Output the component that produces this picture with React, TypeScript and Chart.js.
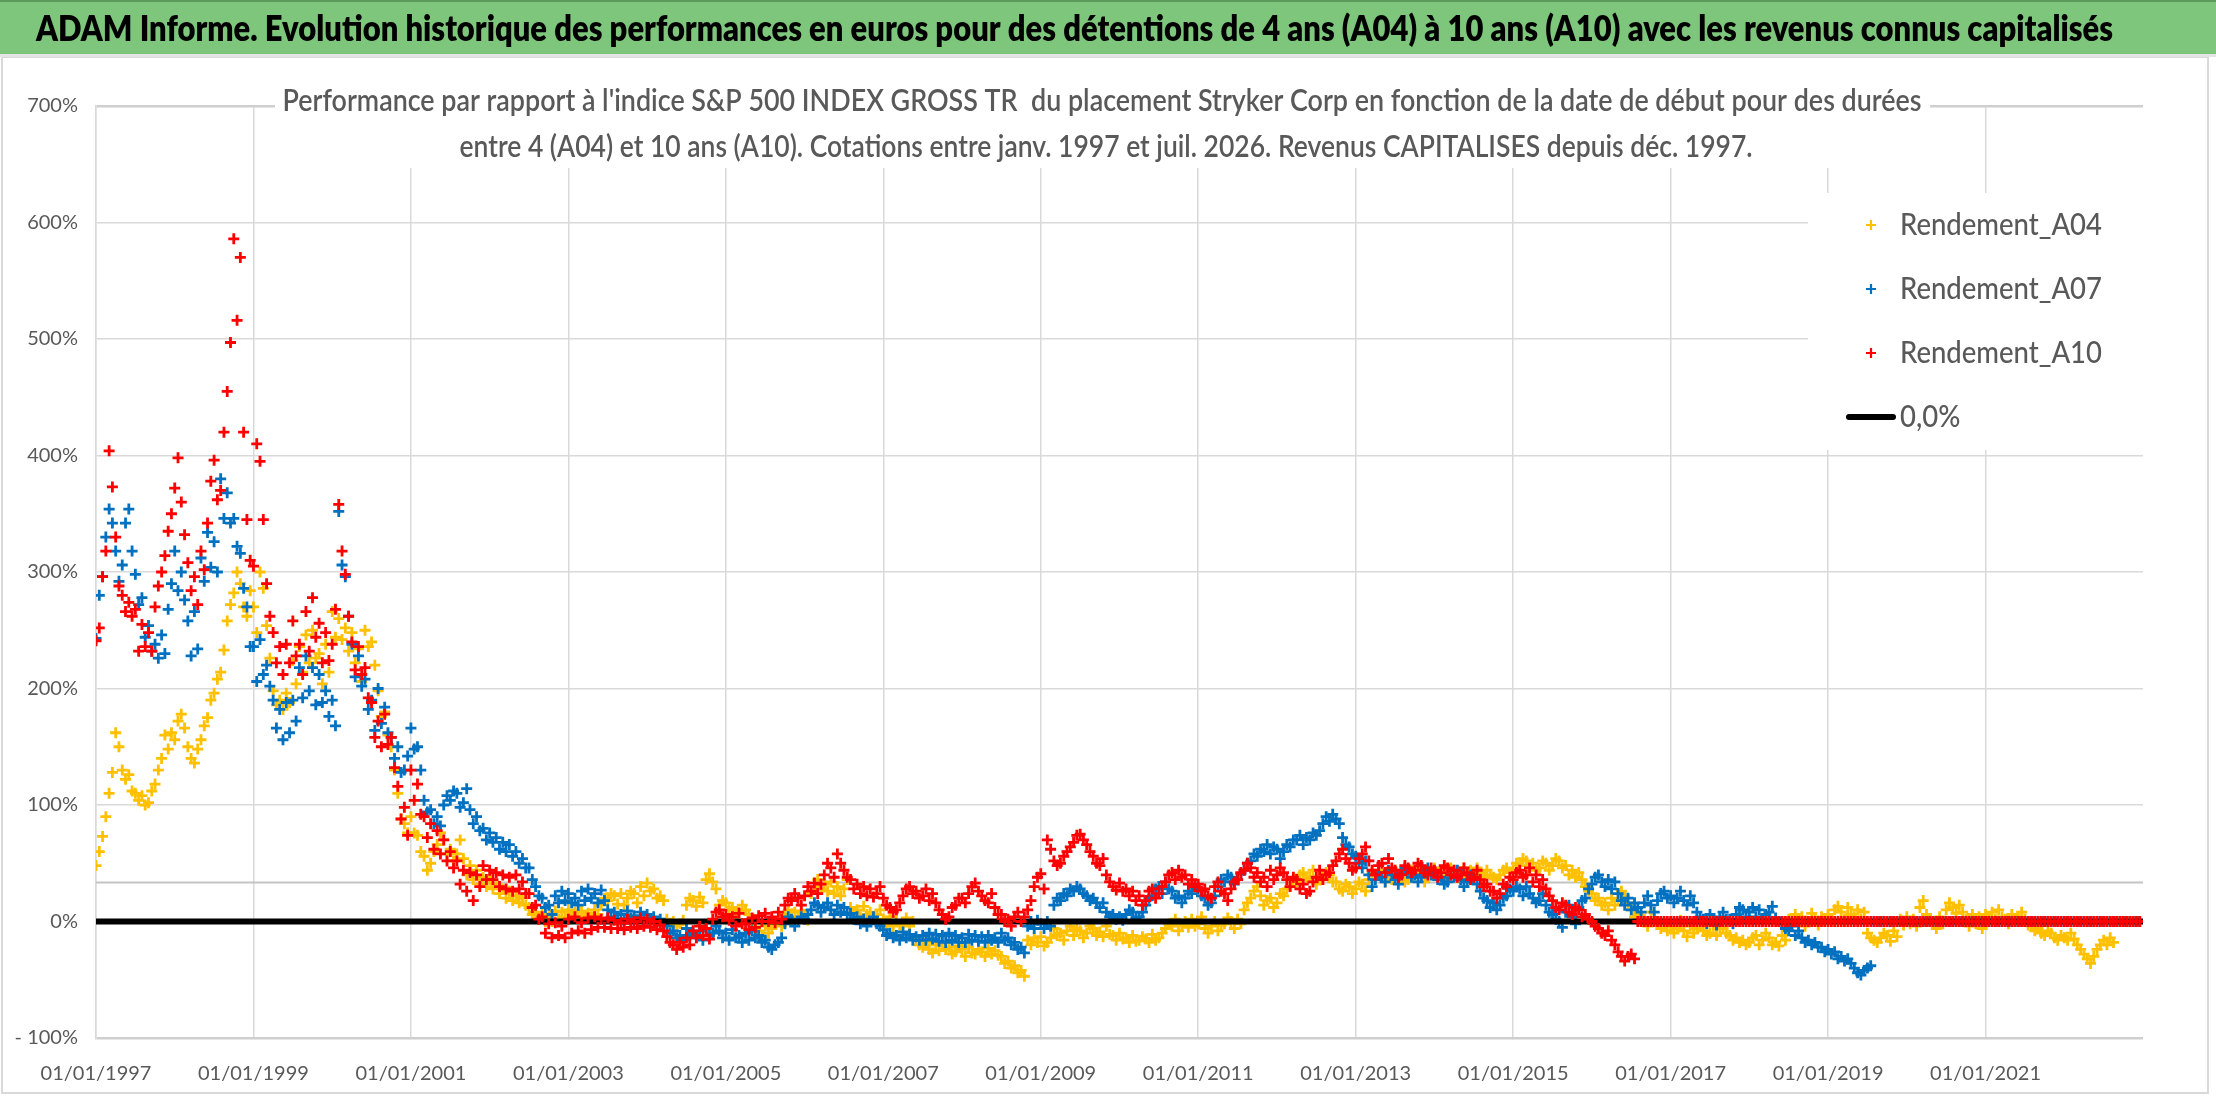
import React, { useEffect, useRef } from 'react';
import { Chart, registerables } from 'chart.js';

Chart.register(...registerables);

const TITLE =
  'ADAM Informe. Evolution historique des performances en euros pour des détentions de 4 ans (A04) à 10 ans (A10) avec les revenus connus capitalisés';
const SUBTITLE = [
  "Performance par rapport à l'indice S&P 500 INDEX GROSS TR  du placement Stryker Corp en fonction de la date de début pour des durées",
  'entre 4 (A04) et 10 ans (A10). Cotations entre janv. 1997 et juil. 2026. Revenus CAPITALISES depuis déc. 1997.',
];

// x axis is in years since 01/01/1997, two points per month
const FIRST_YEAR = 1997;
const POINTS_PER_YEAR = 24;
const X_SPAN_YEARS = 26;
const X_TICK_STEP = 2;
const Y_MIN = -100;
const Y_MAX = 700;
const Y_STEP = 100;

const ZERO_LINE_X = [0, 26];
const ZERO_LINE_Y = [0, 0];
const REF_LINE_X = [0, 26];
const REF_LINE_Y = [33.5, 33.5];

// Rendement_A04 (%), one row per year 1997..2022
const RENDEMENT_A04 = [
  48, 60, 73, 90, 110, 128, 162, 150, 130, 122, 126, 112, 110, 104, 108, 100, 102, 112, 118, 130, 140, 160, 148, 162,
  156, 172, 178, 166, 150, 140, 136, 148, 156, 168, 175, 190, 196, 208, 214, 233, 258, 272, 282, 300, 290, 270, 262, 284,
  270, 248, 300, 286, 254, 226, 198, 186, 190, 182, 196, 188, 224, 204, 236, 214, 246, 222, 250, 226, 230, 204, 238, 214,
  266, 244, 260, 242, 252, 232, 248, 222, 234, 206, 250, 236, 240, 220, 198, 176, 180, 160, 150, 130, 110, 88, 84, 76,
  90, 76, 74, 60, 56, 44, 50, 60, 66, 76, 70, 58, 62, 52, 58, 70, 54, 40, 48, 36, 44, 32, 38, 30,
  36, 28, 32, 24, 28, 20, 26, 18, 22, 16, 20, 14, 12, 6, 8, 2, 6, 0, 4, 0, 9, 2, 8, 4,
  10, 5, 8, 4, 9, 4, 7, 4, 10, 6, 14, 20, 18, 24, 22, 15, 24, 14, 20, 26, 24, 16, 30, 22,
  33, 26, 28, 20, 22, 18, 2, -2, 0, -4, -2, 1, 14, 20, 18, 13, 21, 16, 36, 41, 34, 28, 14, 18,
  16, 10, 12, 7, 8, 14, 10, 6, 0, -6, -8, -13, -4, -10, -6, -2, 1, -4, 6, 10, 2, 8, 4, 9,
  6, 1, 24, 30, 36, 28, 32, 26, 34, 24, 30, 22, 28, 36, 12, 8, 10, 4, 13, 6, 8, 4, 6, 10,
  2, -2, 4, -4, 1, -3, -2, 3, -4, 0, -16, -20, -22, -18, -24, -27, -20, -25, -18, -24, -22, -28, -26, -21,
  -24, -30, -22, -27, -28, -24, -26, -30, -23, -28, -25, -29, -30, -36, -34, -40, -38, -44, -42, -47, -16, -20, -14, -18,
  -13, -21, -18, -14, -6, -12, -10, -16, -8, -4, -12, -6, -8, -14, -10, -4, -6, -12, -9, -13, -4, -11, -12, -16,
  -10, -15, -14, -18, -12, -17, -16, -13, -15, -18, -11, -16, -14, -10, -6, -2, -4, 2, -8, -3, 0, -5, 2, -4,
  -2, 4, -6, -10, -4, 0, -8, -3, -2, 3, 0, -6, 2, -2, 10, 16, 20, 26, 30, 22, 14, 18, 20, 12,
  16, 24, 22, 28, 30, 36, 34, 40, 42, 36, 38, 44, 32, 38, 36, 42, 40, 34, 34, 28, 26, 32, 30, 24,
  28, 34, 32, 26, 36, 42, 40, 44, 38, 34, 42, 36, 44, 38, 40, 34, 36, 44, 42, 46, 40, 34, 38, 44,
  46, 40, 42, 36, 40, 46, 44, 38, 42, 46, 38, 44, 40, 46, 42, 38, 44, 40, 38, 36, 40, 44, 46, 42,
  44, 50, 48, 54, 52, 46, 50, 44, 46, 52, 50, 44, 48, 54, 52, 46, 48, 40, 44, 38, 42, 36, 30, 26,
  24, 18, 20, 14, 16, 10, 20, 14, 18, 26, 22, 16, 10, 4, 6, 0, 2, -4, 8, 2, 0, -6, -2, -8,
  -4, -10, -6, 1, -8, -13, -4, -10, -6, -2, -8, -12, -10, -4, -12, -6, -6, -10, -12, -16, -14, -18, -16, -20,
  -18, -14, -12, -20, -16, -10, -14, -20, -18, -21, -12, -16, 2, -2, 6, 0, 4, -4, 0, 7, 2, -3, 4, 0,
  6, 1, 10, 13, 8, 2, 12, 6, 4, 10, 2, 8, -10, -14, -16, -18, -14, -10, -12, -17, -8, -13, 2, -3,
  4, -2, 2, -4, 12, 18, 6, 2, 0, -6, 4, -2, 10, 16, 12, 7, 14, 8, 2, -4, 6, -2, 4, -6,
  6, 0, 8, 2, 10, 4, 2, -2, 6, 0, 4, 8, 2, -3, -4, -8, -6, -10, -12, -8, -10, -14, -16, -12,
  -14, -16, -10, -15, -20, -24, -28, -32, -36, -30, -24, -20, -16, -20, -14, -18, 0, 0, 0, 0, 0, 0, 0, 0,
];

// Rendement_A07 (%)
const RENDEMENT_A07 = [
  243, 280, 296, 330, 354, 342, 318, 292, 306, 342, 354, 318, 298, 272, 278, 244, 254, 232, 238, 226, 246, 230, 268, 290,
  318, 284, 300, 276, 258, 228, 266, 234, 312, 292, 334, 304, 326, 300, 380, 346, 368, 342, 346, 322, 316, 286, 270, 236,
  236, 206, 242, 212, 220, 202, 190, 166, 182, 156, 188, 162, 190, 172, 218, 192, 228, 198, 218, 186, 212, 188, 198, 176,
  190, 168, 352, 306, 296, 262, 238, 210, 228, 202, 208, 182, 190, 164, 200, 170, 184, 162, 158, 140, 150, 128, 130, 142,
  166, 148, 150, 130, 104, 94, 96, 84, 90, 82, 100, 108, 104, 112, 110, 98, 102, 114, 96, 84, 90, 78, 80, 70,
  76, 68, 72, 62, 68, 60, 66, 56, 60, 50, 54, 46, 46, 36, 30, 22, 20, 12, 14, 6, 22, 16, 26, 18,
  24, 16, 20, 14, 26, 18, 28, 20, 24, 16, 27, 18, 10, 4, 8, 2, 6, 1, 9, 3, 5, 0, 8, 2,
  6, 1, 4, 0, 2, -2, -4, -10, -8, -14, -12, -16, -6, -12, -10, -14, -8, -16, -6, -12, -10, -4, -8, -14,
  -10, -16, -7, -14, -12, -18, -10, -16, -8, -14, -12, -18, -16, -22, -24, -20, -18, -14, -2, 4, 2, -4, 0, 4,
  2, 6, 10, 16, 14, 8, 12, 16, 10, 6, 14, 8, 12, 6, 7, 2, 4, -2, 2, -4, 0, 4, -2, -4,
  -7, -12, -10, -14, -12, -16, -9, -14, -11, -16, -13, -16, -12, -16, -10, -15, -11, -17, -12, -18, -10, -16, -12, -18,
  -14, -18, -11, -16, -12, -17, -13, -18, -12, -16, -14, -18, -10, -16, -14, -20, -18, -24, -22, -27, -4, 0, -6, 1,
  -2, -6, 0, -4, 14, 20, 18, 24, 22, 28, 26, 30, 28, 24, 22, 18, 20, 16, 12, 16, 8, 4, 6, 2,
  4, 1, 6, 10, 8, 3, 4, 8, 14, 20, 22, 28, 30, 24, 34, 28, 26, 20, 22, 16, 20, 26, 24, 30,
  28, 22, 20, 14, 16, 22, 30, 36, 34, 40, 38, 32, 36, 41, 44, 50, 52, 58, 56, 62, 60, 66, 58, 64,
  62, 54, 60, 66, 64, 70, 70, 74, 66, 72, 70, 76, 74, 78, 84, 90, 86, 92, 88, 84, 72, 66, 64, 58,
  56, 50, 46, 52, 40, 30, 36, 42, 38, 34, 44, 40, 36, 32, 42, 46, 44, 38, 40, 34, 38, 44, 46, 40,
  42, 36, 38, 32, 34, 40, 38, 44, 36, 30, 34, 40, 38, 32, 26, 20, 18, 12, 16, 10, 14, 20, 22, 28,
  26, 30, 28, 22, 30, 24, 20, 16, 18, 24, 14, 8, 6, 2, 0, -5, 8, 14, 4, -2, 12, 18, 20, 28,
  32, 38, 40, 34, 30, 36, 28, 34, 24, 18, 14, 20, 10, 16, 12, 8, 16, 22, 14, 8, 18, 24, 26, 20,
  22, 16, 20, 26, 18, 14, 22, 16, 8, 4, 2, -2, 6, 0, -3, 4, 8, 2, 2, -2, 6, 12, 10, 4,
  8, 12, 4, 10, 2, 6, 8, 13, 3, 0, -2, -6, -8, -4, -12, -8, -14, -18, -16, -20, -18, -22, -22, -26,
  -24, -28, -26, -32, -30, -34, -32, -36, -40, -44, -46, -42, -40, -38, 0, 0, 0, 0, 0, 0, 0, 0, 0, 0,
  0, 0, 0, 0, 0, 0, 0, 0, 0, 0, 0, 0, 0, 0, 0, 0, 0, 0, 0, 0, 0, 0, 0, 0,
  0, 0, 0, 0, 0, 0, 0, 0, 0, 0, 0, 0, 0, 0, 0, 0, 0, 0, 0, 0, 0, 0, 0, 0,
  0, 0, 0, 0, 0, 0, 0, 0, 0, 0, 0, 0, 0, 0, 0, 0, 0, 0, 0, 0, 0, 0, 0, 0,
];

// Rendement_A10 (%)
const RENDEMENT_A10 = [
  241, 252, 296, 318, 404, 373, 330, 288, 280, 266, 274, 262, 268, 232, 255, 236, 248, 232, 270, 288, 300, 314, 335, 350,
  372, 398, 360, 332, 308, 284, 296, 272, 318, 302, 342, 378, 396, 362, 370, 420, 455, 497, 586, 516, 570, 420, 345, 310,
  305, 410, 395, 345, 290, 262, 248, 222, 236, 212, 238, 222, 258, 228, 238, 212, 266, 232, 278, 244, 256, 222, 248, 224,
  238, 268, 358, 318, 298, 262, 240, 216, 236, 212, 218, 192, 188, 158, 172, 150, 178, 152, 158, 132, 116, 88, 98, 74,
  130, 104, 118, 92, 90, 72, 84, 62, 78, 58, 70, 52, 60, 46, 52, 32, 44, 26, 42, 18, 40, 30, 48, 36,
  44, 36, 42, 30, 40, 28, 38, 26, 40, 28, 34, 24, 24, 12, 14, 2, 4, -10, -2, -14, -1, -12, -4, -14,
  2, -10, 4, -8, -1, -10, 3, -7, 4, -5, 2, -5, 3, -6, 1, -6, -1, -7, 2, -5, 0, -6, 3, -4,
  2, -5, 0, -7, -3, -8, -13, -18, -20, -24, -18, -22, -14, -20, -8, -14, -4, -12, -6, -15, 2, 8, 10, 4,
  6, 1, 4, -4, 7, -2, -2, -7, 3, -5, 5, 0, 7, 0, 4, -1, 8, 2, 14, 20, 18, 24, 20, 14,
  22, 30, 26, 33, 24, 32, 40, 50, 46, 38, 58, 50, 44, 38, 36, 28, 32, 24, 30, 22, 28, 21, 24, 30,
  20, 14, 12, 8, 10, 16, 22, 28, 30, 24, 26, 20, 22, 28, 18, 24, 16, 10, 6, 2, 4, 12, 14, 20,
  20, 16, 24, 30, 33, 26, 22, 18, 16, 24, 12, 6, 6, 0, 2, -4, 4, 8, 0, 4, 10, 18, 30, 38,
  41, 28, 70, 62, 52, 48, 50, 56, 60, 64, 68, 74, 75, 70, 66, 60, 56, 50, 48, 54, 40, 34, 30, 27,
  33, 26, 28, 22, 26, 18, 22, 14, 18, 26, 28, 20, 24, 30, 34, 40, 42, 36, 44, 38, 40, 32, 36, 30,
  32, 26, 28, 22, 20, 30, 34, 26, 24, 18, 28, 34, 36, 42, 44, 50, 46, 38, 42, 34, 38, 30, 44, 36,
  40, 46, 42, 36, 30, 38, 36, 28, 32, 24, 26, 34, 38, 44, 36, 40, 42, 48, 52, 58, 62, 54, 50, 44,
  46, 54, 58, 64, 52, 44, 40, 48, 50, 42, 54, 46, 44, 38, 40, 48, 46, 42, 44, 50, 48, 42, 40, 46,
  44, 38, 42, 48, 46, 40, 44, 38, 40, 46, 42, 36, 38, 44, 36, 30, 32, 26, 26, 20, 24, 32, 30, 38,
  36, 42, 44, 38, 40, 46, 34, 40, 30, 36, 28, 22, 18, 12, 10, 16, 14, 8, 6, 12, 10, 4, 6, 2,
  0, -4, -6, -10, -12, -8, -16, -20, -26, -30, -34, -30, -28, -32, 0, 0, 0, 0, 0, 0, 0, 0, 0, 0,
  0, 0, 0, 0, 0, 0, 0, 0, 0, 0, 0, 0, 0, 0, 0, 0, 0, 0, 0, 0, 0, 0, 0, 0,
  0, 0, 0, 0, 0, 0, 0, 0, 0, 0, 0, 0, 0, 0, 0, 0, 0, 0, 0, 0, 0, 0, 0, 0,
  0, 0, 0, 0, 0, 0, 0, 0, 0, 0, 0, 0, 0, 0, 0, 0, 0, 0, 0, 0, 0, 0, 0, 0,
  0, 0, 0, 0, 0, 0, 0, 0, 0, 0, 0, 0, 0, 0, 0, 0, 0, 0, 0, 0, 0, 0, 0, 0,
  0, 0, 0, 0, 0, 0, 0, 0, 0, 0, 0, 0, 0, 0, 0, 0, 0, 0, 0, 0, 0, 0, 0, 0,
  0, 0, 0, 0, 0, 0, 0, 0, 0, 0, 0, 0, 0, 0, 0, 0, 0, 0, 0, 0, 0, 0, 0, 0,
];

const FONT = 'Lato, "Open Sans", sans-serif';
const TEXT_GREY = '#595959';
const GRID_GREY = '#d9d9d9';

const toPoints = (values: number[]) => values.map((y, i) => ({ x: i / POINTS_PER_YEAR, y }));
const toLine = (xs: number[], ys: number[]) => xs.map((x, i) => ({ x, y: ys[i] }));

// draw text stretched or squeezed to an exact width
function fitText(
  ctx: CanvasRenderingContext2D,
  text: string,
  x: number,
  y: number,
  width: number,
  align: 'left' | 'center',
  font: string,
  color: string
) {
  ctx.save();
  ctx.font = font;
  ctx.fillStyle = color;
  ctx.textBaseline = 'middle';
  ctx.textAlign = 'left';
  const w = ctx.measureText(text).width;
  const left = align === 'center' ? x - width / 2 : x;
  ctx.translate(left, y);
  ctx.scale(width / w, 1);
  ctx.fillText(text, 0, 0);
  ctx.restore();
}

const decorPlugin = {
  id: 'decor',
  beforeDraw(chart: any) {
    const { ctx, width, height } = chart;
    ctx.save();
    ctx.fillStyle = '#ffffff';
    ctx.fillRect(0, 0, width, height);
    ctx.strokeStyle = GRID_GREY;
    ctx.lineWidth = 2;
    ctx.strokeRect(2, 57, 2206, 1036);
    ctx.fillStyle = '#7dc67c';
    ctx.fillRect(0, 0, width, 54);
    ctx.fillStyle = '#5c9a5b';
    ctx.fillRect(0, 0, width, 2);
    ctx.fillStyle = '#e4e4e4';
    ctx.fillRect(0, 54, width, 3);
    ctx.restore();
    fitText(ctx, TITLE, 36, 29, 2077, 'left', `800 36px ${FONT}`, '#000000');
  },
  afterDraw(chart: any) {
    const { ctx, chartArea } = chart;
    ctx.save();
    // subtitle over the plot
    ctx.fillStyle = '#ffffff';
    ctx.fillRect(275, 80, 1655, 88);
    ctx.restore();
    fitText(ctx, SUBTITLE[0], 1102, 101, 1639, 'center', `600 30px ${FONT}`, TEXT_GREY);
    fitText(ctx, SUBTITLE[1], 1106, 147, 1293, 'center', `600 30px ${FONT}`, TEXT_GREY);

    // legend box
    const boxX = 1808;
    const boxY = 193;
    ctx.save();
    ctx.fillStyle = '#ffffff';
    ctx.fillRect(boxX, boxY, chartArea.right - boxX, 257);
    ctx.font = `500 31px ${FONT}`;
    const squeeze = 202 / ctx.measureText('Rendement_A04').width;
    ctx.restore();

    const items = chart.data.datasets.filter((d: any) => d.label);
    items.forEach((d: any, i: number) => {
      const y = 225 + i * 64;
      ctx.save();
      ctx.strokeStyle = d.borderColor;
      if (d.showLine) {
        ctx.lineWidth = 6;
        ctx.lineCap = 'round';
        ctx.beginPath();
        ctx.moveTo(1849, y);
        ctx.lineTo(1893, y);
        ctx.stroke();
      } else {
        ctx.lineWidth = 2.2;
        ctx.beginPath();
        ctx.moveTo(1866, y);
        ctx.lineTo(1876, y);
        ctx.moveTo(1871, y - 5);
        ctx.lineTo(1871, y + 5);
        ctx.stroke();
      }
      ctx.font = `500 31px ${FONT}`;
      ctx.fillStyle = TEXT_GREY;
      ctx.textBaseline = 'middle';
      ctx.translate(1900, y);
      ctx.scale(squeeze, 1);
      ctx.fillText(d.label, 0, 0);
      ctx.restore();
    });
  },
};

const scatterStyle = (color: string) => ({
  showLine: false,
  pointStyle: 'cross' as const,
  pointRadius: 5.5,
  pointBorderWidth: 2.8,
  borderWidth: 2.8,
  borderColor: color,
  backgroundColor: color,
});

export default function App() {
  const canvasRef = useRef<HTMLCanvasElement>(null);
  const chartRef = useRef<Chart | null>(null);

  useEffect(() => {
    document.body.style.margin = '0';
    document.body.style.overflow = 'hidden';
    if (!canvasRef.current) return;
    if (chartRef.current) chartRef.current.destroy();

    chartRef.current = new Chart(canvasRef.current, {
      type: 'scatter',
      data: {
        datasets: [
          { label: 'Rendement_A04', data: toPoints(RENDEMENT_A04), order: 3, ...scatterStyle('#FFC000') },
          { label: 'Rendement_A07', data: toPoints(RENDEMENT_A07), order: 2, ...scatterStyle('#0070C0') },
          { label: 'Rendement_A10', data: toPoints(RENDEMENT_A10), order: 0, ...scatterStyle('#FF0000') },
          {
            label: '0,0%',
            data: toLine(ZERO_LINE_X, ZERO_LINE_Y),
            order: 1,
            showLine: true,
            pointRadius: 0,
            borderColor: '#000000',
            borderWidth: 6,
            borderCapStyle: 'round',
          },
          {
            label: '',
            data: toLine(REF_LINE_X, REF_LINE_Y),
            order: 5,
            showLine: true,
            pointRadius: 0,
            borderColor: '#c4c4c4',
            borderWidth: 2,
          },
        ] as any,
      },
      options: {
        animation: false,
        responsive: true,
        maintainAspectRatio: false,
        devicePixelRatio: 1,
        events: [],
        layout: { padding: { top: 106, right: 73, bottom: 0, left: 0 } },
        plugins: {
          legend: { display: false },
          title: { display: false },
          tooltip: { enabled: false },
        },
        scales: {
          x: {
            type: 'linear',
            min: 0,
            max: X_SPAN_YEARS,
            afterFit: (s: any) => {
              s.height = 64;
            },
            border: { display: false },
            grid: {
              drawTicks: false,
              lineWidth: 1.5,
              color: (c: any) => (c.tick && c.tick.value === X_SPAN_YEARS ? 'rgba(0,0,0,0)' : GRID_GREY),
            },
            ticks: {
              stepSize: X_TICK_STEP,
              autoSkip: false,
              maxRotation: 0,
              includeBounds: false,
              padding: 24,
              color: TEXT_GREY,
              font: { family: FONT, size: 20 },
              callback: (v: any) => (v === X_SPAN_YEARS ? '' : '01/01/' + (FIRST_YEAR + Number(v))),
            },
          },
          y: {
            min: Y_MIN,
            max: Y_MAX,
            afterFit: (s: any) => {
              s.width = 96;
            },
            border: { color: GRID_GREY, width: 1.5 },
            grid: {
              drawTicks: false,
              lineWidth: (c: any) => (c.tick && (c.tick.value === Y_MAX || c.tick.value === Y_MIN) ? 2.5 : 1.5),
              color: (c: any) => (c.tick && (c.tick.value === Y_MAX || c.tick.value === Y_MIN) ? '#cfcfcf' : GRID_GREY),
            },
            ticks: {
              stepSize: Y_STEP,
              padding: 18,
              color: TEXT_GREY,
              font: { family: FONT, size: 20 },
              callback: (v: any) => (Number(v) < 0 ? '- ' + Math.abs(Number(v)) + '%' : v + '%'),
            },
          },
        },
      },
      plugins: [decorPlugin],
    });

    return () => {
      if (chartRef.current) {
        chartRef.current.destroy();
        chartRef.current = null;
      }
    };
  }, []);

  return (
    <div style={{ position: 'absolute', left: 0, top: 0, width: 2216, height: 1102 }}>
      <canvas ref={canvasRef} />
    </div>
  );
}
